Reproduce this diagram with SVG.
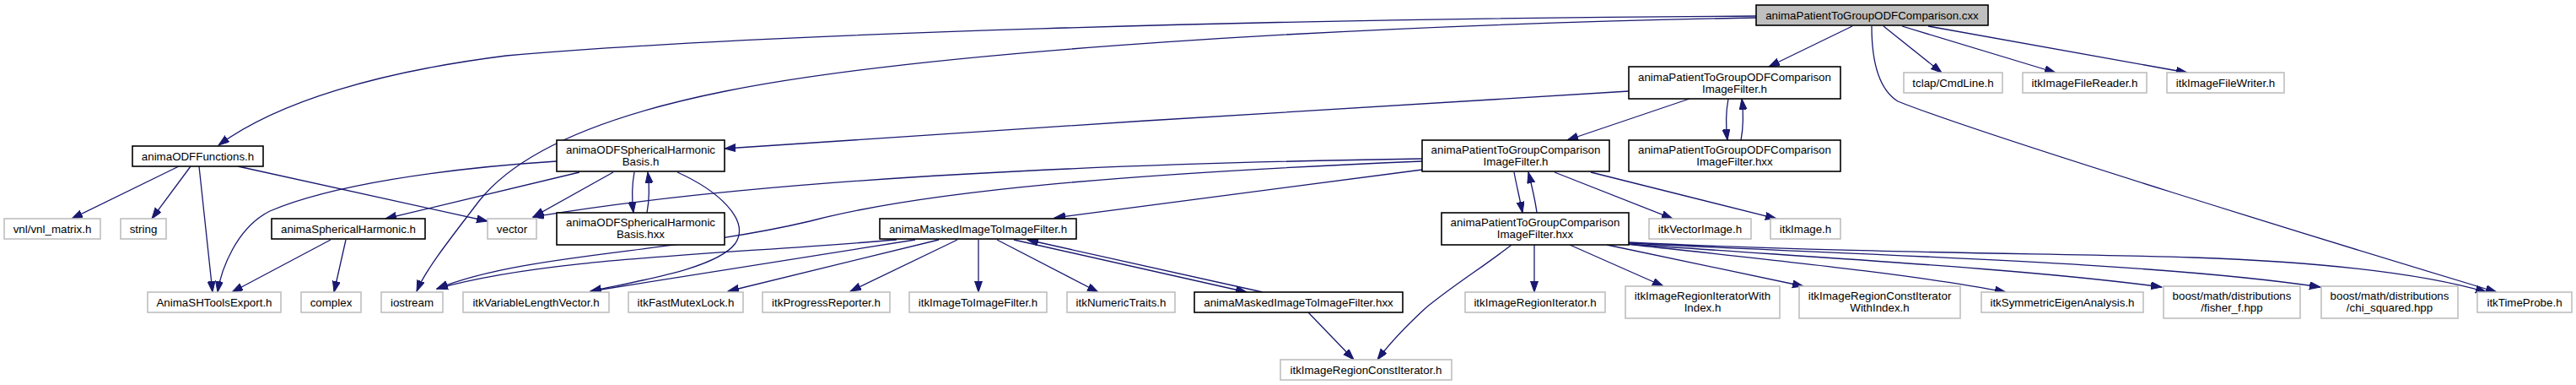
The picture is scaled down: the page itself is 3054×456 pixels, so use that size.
<svg xmlns="http://www.w3.org/2000/svg" width="3054" height="456" viewBox="0 0 3054 456">
<style>
.bk{fill:#fff;stroke:#000;stroke-width:1.6}
.gy{fill:#fff;stroke:#bfbfbf;stroke-width:1.6}
.rt{fill:#bfbfbf;stroke:#000;stroke-width:1.6}
text{font-family:"Liberation Sans",Arial,Helvetica,sans-serif;font-size:13.33px;fill:#000;text-anchor:middle}
.e path{fill:none;stroke:#191970;stroke-width:1.3;marker-end:url(#ah)}
</style>
<defs>
<marker id="ah" markerUnits="userSpaceOnUse" markerWidth="14" markerHeight="10" refX="13" refY="4.5" orient="auto">
<path d="M0,0 L13,4.5 L0,9 z" fill="#191970" stroke="#191970" stroke-width="1"/>
</marker>
</defs>
<rect width="3054" height="456" fill="#fff"/>
<g id="connectors" class="e">
<path d="M2082,19 C1500,22 900,40 600,66 C450,85 330,120 259,172"/>
<path d="M2082,21 C1600,30 1100,60 860,108 C700,140 610,185 568,238 C540,275 505,318 494,345"/>
<path d="M2196,31 L2097,79"/>
<path d="M2233,31 L2302,86"/>
<path d="M2255,31 L2437,86"/>
<path d="M2286,31 L2593,86"/>
<path d="M2219,31 C2219,70 2226,105 2250,120 C2350,160 2780,292 2960,346"/>
<path d="M1931,108 C1600,128 1200,152 859,176"/>
<path d="M2003,117 L1858,166"/>
<path d="M2049,117 C2046,133 2046,150 2048,166"/>
<path d="M2064,166 C2067,150 2067,133 2065,117"/>
<path d="M212,197 L85,259"/>
<path d="M226,197 L180,259"/>
<path d="M236,197 L252,346"/>
<path d="M282,197 L578,262"/>
<path d="M660,191 C520,200 390,220 320,250 C280,270 262,320 258,346"/>
<path d="M687,204 L457,259"/>
<path d="M727,204 L632,257"/>
<path d="M752,204 C749,220 749,236 751,252"/>
<path d="M767,252 C770,236 770,220 768,204"/>
<path d="M803,204 C850,225 890,260 872,288 C850,318 760,332 700,345"/>
<path d="M392,284 L275,346"/>
<path d="M410,284 L396,346"/>
<path d="M1686,188 C1300,194 900,212 632,257"/>
<path d="M1686,191 C1350,205 1100,225 960,262 C800,300 620,300 518,342"/>
<path d="M1686,201 L1250,258"/>
<path d="M1795,204 C1798,220 1802,236 1805,252"/>
<path d="M1822,252 C1820,236 1816,220 1812,204"/>
<path d="M1843,204 L1983,259"/>
<path d="M1886,204 L2106,259"/>
<path d="M1063,284 C850,302 650,305 518,342"/>
<path d="M1085,284 L700,345"/>
<path d="M1113,284 L863,345"/>
<path d="M1135,284 L1008,345"/>
<path d="M1160,284 L1160,346"/>
<path d="M1182,284 L1302,346"/>
<path d="M1202,284 L1478,346"/>
<path d="M1497,346 L1218,284"/>
<path d="M1551,370 L1605,426"/>
<path d="M1792,290 C1760,315 1720,340 1690,365 C1665,388 1645,410 1633,426"/>
<path d="M1819,290 L1819,346"/>
<path d="M1861,290 L1972,339"/>
<path d="M1905,290 L2138,339"/>
<path d="M1928,289 C2100,308 2270,325 2378,346"/>
<path d="M1930,289 C2150,305 2400,318 2563,340"/>
<path d="M1931,288 C2200,302 2550,310 2751,340"/>
<path d="M1931,287 C2200,300 2450,300 2600,305 C2800,312 2900,332 2948,346"/>
</g>
<g id="n_cxx"><rect class="rt" x="2082" y="6" width="275" height="24"/><text x="2219.5" y="22.5">animaPatientToGroupODFComparison.cxx</text></g>
<g id="n_odffunctions"><rect class="bk" x="157" y="173" width="155" height="24"/><text x="234.5" y="189.5">animaODFFunctions.h</text></g>
<g id="n_odfimagefilter_h"><rect class="bk" x="1931" y="79" width="251" height="38"/><text x="2056.5" y="95.5">animaPatientToGroupODFComparison</text><text x="2056.5" y="109.5">ImageFilter.h</text></g>
<g id="n_tclap"><rect class="gy" x="2257" y="86" width="117" height="24"/><text x="2315.5" y="102.5">tclap/CmdLine.h</text></g>
<g id="n_reader"><rect class="gy" x="2398" y="86" width="147" height="24"/><text x="2471.5" y="102.5">itkImageFileReader.h</text></g>
<g id="n_writer"><rect class="gy" x="2569" y="86" width="139" height="24"/><text x="2638.5" y="102.5">itkImageFileWriter.h</text></g>
<g id="n_iostream"><rect class="gy" x="452" y="346" width="73" height="24"/><text x="488.5" y="362.5">iostream</text></g>
<g id="n_timeprobe"><rect class="gy" x="2937" y="346" width="112" height="24"/><text x="2993" y="362.5">itkTimeProbe.h</text></g>
<g id="n_vnl"><rect class="gy" x="5" y="259" width="114" height="24"/><text x="62" y="275.5">vnl/vnl_matrix.h</text></g>
<g id="n_string"><rect class="gy" x="143" y="259" width="54" height="24"/><text x="170" y="275.5">string</text></g>
<g id="n_shtools"><rect class="gy" x="175" y="346" width="158" height="24"/><text x="254" y="362.5">AnimaSHToolsExport.h</text></g>
<g id="n_vector"><rect class="gy" x="578" y="259" width="58" height="24"/><text x="607" y="275.5">vector</text></g>
<g id="n_basis_h"><rect class="bk" x="660" y="166" width="199" height="37"/><text x="759.5" y="182.4">animaODFSphericalHarmonic</text><text x="759.5" y="196.4">Basis.h</text></g>
<g id="n_sph"><rect class="bk" x="322" y="259" width="182" height="24"/><text x="413" y="275.5">animaSphericalHarmonic.h</text></g>
<g id="n_basis_hxx"><rect class="bk" x="660" y="252" width="199" height="38"/><text x="759.5" y="268.4">animaODFSphericalHarmonic</text><text x="759.5" y="282.4">Basis.hxx</text></g>
<g id="n_vlv"><rect class="gy" x="549" y="346" width="173" height="24"/><text x="635.5" y="362.5">itkVariableLengthVector.h</text></g>
<g id="n_complex"><rect class="gy" x="357" y="346" width="71" height="24"/><text x="392.5" y="362.5">complex</text></g>
<g id="n_cmp_h"><rect class="bk" x="1686" y="166" width="222" height="37"/><text x="1797" y="182.4">animaPatientToGroupComparison</text><text x="1797" y="196.4">ImageFilter.h</text></g>
<g id="n_odf_hxx"><rect class="bk" x="1931" y="166" width="251" height="37"/><text x="2056.5" y="182.4">animaPatientToGroupODFComparison</text><text x="2056.5" y="196.4">ImageFilter.hxx</text></g>
<g id="n_masked_h"><rect class="bk" x="1043" y="259" width="233" height="24"/><text x="1159.5" y="275.5">animaMaskedImageToImageFilter.h</text></g>
<g id="n_cmp_hxx"><rect class="bk" x="1709" y="252" width="222" height="38"/><text x="1820" y="268.4">animaPatientToGroupComparison</text><text x="1820" y="282.4">ImageFilter.hxx</text></g>
<g id="n_vectorimage"><rect class="gy" x="1955" y="259" width="121" height="24"/><text x="2015.5" y="275.5">itkVectorImage.h</text></g>
<g id="n_image"><rect class="gy" x="2099" y="259" width="83" height="24"/><text x="2140.5" y="275.5">itkImage.h</text></g>
<g id="n_mutex"><rect class="gy" x="745" y="346" width="136" height="24"/><text x="813" y="362.5">itkFastMutexLock.h</text></g>
<g id="n_progress"><rect class="gy" x="904" y="346" width="151" height="24"/><text x="979.5" y="362.5">itkProgressReporter.h</text></g>
<g id="n_i2i"><rect class="gy" x="1078" y="346" width="163" height="24"/><text x="1159.5" y="362.5">itkImageToImageFilter.h</text></g>
<g id="n_numeric"><rect class="gy" x="1265" y="346" width="128" height="24"/><text x="1329" y="362.5">itkNumericTraits.h</text></g>
<g id="n_masked_hxx"><rect class="bk" x="1416" y="346" width="247" height="24"/><text x="1539.5" y="362.5">animaMaskedImageToImageFilter.hxx</text></g>
<g id="n_constiter"><rect class="gy" x="1518" y="426" width="203" height="24"/><text x="1619.5" y="442.5">itkImageRegionConstIterator.h</text></g>
<g id="n_regioniter"><rect class="gy" x="1737" y="346" width="166" height="24"/><text x="1820" y="362.5">itkImageRegionIterator.h</text></g>
<g id="n_iterwithindex"><rect class="gy" x="1927" y="339" width="183" height="38"/><text x="2018.5" y="355.4">itkImageRegionIteratorWith</text><text x="2018.5" y="369.4">Index.h</text></g>
<g id="n_constiterwithindex"><rect class="gy" x="2133" y="339" width="191" height="38"/><text x="2228.5" y="355.4">itkImageRegionConstIterator</text><text x="2228.5" y="369.4">WithIndex.h</text></g>
<g id="n_symeigen"><rect class="gy" x="2349" y="346" width="192" height="24"/><text x="2445" y="362.5">itkSymmetricEigenAnalysis.h</text></g>
<g id="n_fisher"><rect class="gy" x="2565" y="339" width="162" height="38"/><text x="2646" y="355.4">boost/math/distributions</text><text x="2646" y="369.4">/fisher_f.hpp</text></g>
<g id="n_chi"><rect class="gy" x="2752" y="339" width="162" height="38"/><text x="2833" y="355.4">boost/math/distributions</text><text x="2833" y="369.4">/chi_squared.hpp</text></g>
</svg>
